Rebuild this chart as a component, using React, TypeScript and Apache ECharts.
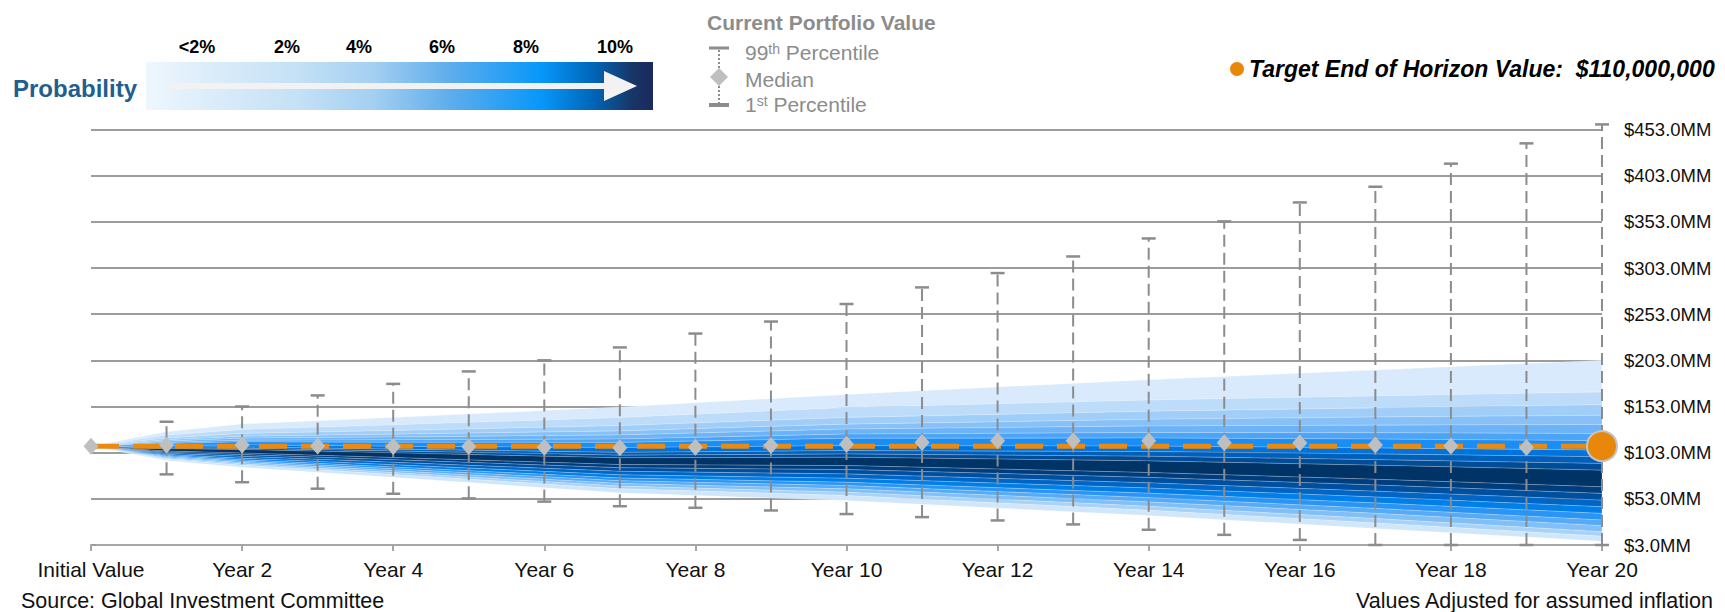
import React, { useEffect, useRef } from "react";
import * as echarts from "echarts";

const FONT = '"Liberation Sans", Arial, Helvetica, sans-serif';

// ---- data ----
const YEARS = [0, 1, 2, 3, 4, 5, 6, 7, 8, 9, 10, 11, 12, 13, 14, 15, 16, 17, 18, 19, 20];
const MEDIAN = [110, 111.3, 111.3, 110.3, 109.8, 109.6, 109, 108.4, 109, 110.7, 112.2, 114, 115.8, 116, 115.8, 113.8, 113.4, 111.3, 110.2, 108.6, 109];
const BAR_YEARS = [1, 2, 3, 4, 5, 6, 7, 8, 9, 10, 11, 12, 13, 14, 15, 16, 17, 18, 19, 20];
const P99 = [136.5, 153, 165, 177.5, 191, 203, 217, 232, 245, 264, 282, 297.5, 315.5, 335, 353.5, 374, 391, 416, 438, 458.5];
const P1 = [79.5, 71, 64, 58.5, 53.5, 50, 45, 43.3, 40.4, 36.5, 33.2, 29.6, 25.3, 19.5, 14, 8.5, 3, 3, 3, 3];
const TARGET_VALUE = 110;
const TARGET_TEXT = "Target End of Horizon Value:  $110,000,000";

// fan band boundaries (top to bottom) read at these x positions
const FAN_X = [0, 1, 2, 4, 7, 10, 14, 17, 20];
const FAN_AT_0 = [110, 110, 110, 110, 110, 110, 110, 110, 110, 110, 110, 110, 110, 110, 110, 110, 110, 110, 110, 110, 110];
const FAN_AT_1 = [125.7, 121.9, 118.9, 117.0, 115.5, 114.0, 112.8, 110.6, 109.1, 108.1, 107.2, 104.7, 103.5, 102.3, 101.0, 99.8, 98.8, 97.8, 96.8, 95.9, 94.4];
const FAN_AT_2 = [134, 128.2, 123.8, 120.9, 118.7, 116.5, 114.7, 111.4, 109.2, 107.7, 106.3, 102.6, 100.9, 99.0, 97.0, 95.3, 93.8, 92.4, 90.9, 89.4, 87.2];
const FAN_AT_4 = [141, 133.1, 127.0, 123.0, 119.9, 116.9, 114.3, 109.9, 106.8, 104.8, 102.8, 97.7, 95.3, 92.6, 90.0, 87.5, 85.5, 83.5, 81.4, 79.4, 76.4];
const FAN_AT_7 = [152.5, 141.1, 132.3, 126.6, 122.2, 117.8, 114.1, 108.5, 103.3, 100.3, 97.4, 90.1, 86.7, 82.8, 79.0, 75.5, 72.6, 69.7, 66.8, 63.9, 59.5];
const FAN_AT_10 = [166, 151.9, 141.1, 133.9, 128.5, 123.1, 118.5, 110.6, 105.2, 101.6, 98, 89, 84.7, 80, 75.3, 71, 67.4, 63.8, 60.2, 56.6, 51.2];
const FAN_AT_14 = [182, 160.0, 147.8, 139.1, 131.9, 124.8, 118.9, 110.1, 104.2, 99.1, 94.1, 81.5, 76.2, 70.3, 64.7, 59.1, 54.3, 49.7, 44.9, 40.6, 35];
const FAN_AT_17 = [192.5, 164.5, 151.5, 141.6, 132.8, 124.6, 117.7, 108.1, 101.6, 95.4, 89.4, 74.2, 68.0, 61.3, 55.0, 48.6, 42.6, 37.3, 31.6, 26.8, 21];
const FAN_AT_20 = [203, 168.8, 155, 143.5, 133.4, 123.7, 116, 105.7, 98.5, 91.3, 84, 66, 58.9, 51.6, 44.4, 37.2, 30, 23.9, 17.4, 12.5, 7];
const FAN_COLUMNS = [FAN_AT_0, FAN_AT_1, FAN_AT_2, FAN_AT_4, FAN_AT_7, FAN_AT_10, FAN_AT_14, FAN_AT_17, FAN_AT_20];

const BAND_COLORS = [
  "#d8eafc", "#bddcfa", "#a1cef9", "#88c1f8", "#6cb3f7", "#4da4f6", "#1b8ef5", "#0073dd", "#005fb9", "#004c97",
  "#003366", "#003d7d", "#004f9f", "#0065c5", "#007fe9", "#2b95f5", "#56aaf6", "#81bff7", "#a9d2f9", "#d0e6fb",
];

const PROB_LABELS = ["<2%", "2%", "4%", "6%", "8%", "10%"];
const PROB_LABEL_X = [197, 287, 359, 442, 526, 615];

const Y_MIN = 3;
const Y_MAX = 453;
const Y_STEP = 50;

function buildOption() {
  const bandData = BAND_COLORS.map((_, i) => [i, TARGET_VALUE]);
  const barData = BAR_YEARS.map((y, i) => [y, P1[i], P99[i]]);
  const medianData = YEARS.map((y, i) => [y, MEDIAN[i]]);

  const grey = "#8c8c8c";
  const legendGrey = "#8c8c8c";

  const graphic: any[] = [
    {
      type: "text",
      x: 13,
      y: 88,
      style: { text: "Probability", font: `bold 24px ${FONT}`, fill: "#1f5f8f", align: "left", verticalAlign: "middle" },
    },
    {
      type: "rect",
      shape: { x: 146, y: 62, width: 507, height: 48 },
      style: {
        fill: new echarts.graphic.LinearGradient(0, 0, 1, 0, [
          { offset: 0, color: "#eff7fd" },
          { offset: 0.12, color: "#dcedfa" },
          { offset: 0.3, color: "#c4e1f6" },
          { offset: 0.45, color: "#a3cff2" },
          { offset: 0.6, color: "#5eadec" },
          { offset: 0.78, color: "#0797fa" },
          { offset: 0.88, color: "#0067b9" },
          { offset: 0.96, color: "#183566" },
          { offset: 1, color: "#1b2a5c" },
        ]),
      },
    },
    { type: "rect", shape: { x: 170, y: 83, width: 436, height: 6 }, style: { fill: "#f2f2f2" } },
    { type: "polygon", shape: { points: [[604, 71], [637, 86], [604, 101]] }, style: { fill: "#f2f2f2" } },
    ...PROB_LABELS.map((t, i) => ({
      type: "text",
      x: PROB_LABEL_X[i],
      y: 47,
      style: { text: t, font: `bold 18px ${FONT}`, fill: "#000", align: "center", verticalAlign: "middle" },
    })),
    {
      type: "text",
      x: 707,
      y: 22,
      style: { text: "Current Portfolio Value", font: `bold 21px ${FONT}`, fill: legendGrey, align: "left", verticalAlign: "middle" },
    },
    { type: "line", shape: { x1: 709, y1: 48, x2: 729, y2: 48 }, style: { stroke: grey, lineWidth: 3 } },
    { type: "line", shape: { x1: 719, y1: 50, x2: 719, y2: 69 }, style: { stroke: grey, lineWidth: 2, lineDash: [2, 2] } },
    { type: "polygon", shape: { points: [[719, 68], [728, 77], [719, 86], [710, 77]] }, style: { fill: "#bfbfbf" } },
    { type: "line", shape: { x1: 719, y1: 86, x2: 719, y2: 103 }, style: { stroke: grey, lineWidth: 2, lineDash: [2, 2] } },
    { type: "line", shape: { x1: 709, y1: 105, x2: 729, y2: 105 }, style: { stroke: grey, lineWidth: 4 } },
    {
      type: "text",
      x: 745,
      y: 52,
      style: {
        text: "{n|99}{s|th}{n| Percentile}",
        align: "left",
        verticalAlign: "middle",
        rich: {
          n: { fontSize: 21, fontFamily: FONT, fill: legendGrey },
          s: { fontSize: 14, fontFamily: FONT, fill: legendGrey, verticalAlign: "top" },
        },
      },
    },
    {
      type: "text",
      x: 745,
      y: 79,
      style: { text: "Median", font: `21px ${FONT}`, fill: legendGrey, align: "left", verticalAlign: "middle" },
    },
    {
      type: "text",
      x: 745,
      y: 104,
      style: {
        text: "{n|1}{s|st}{n| Percentile}",
        align: "left",
        verticalAlign: "middle",
        rich: {
          n: { fontSize: 21, fontFamily: FONT, fill: legendGrey },
          s: { fontSize: 14, fontFamily: FONT, fill: legendGrey, verticalAlign: "top" },
        },
      },
    },
    { type: "circle", shape: { cx: 1237, cy: 69, r: 7 }, style: { fill: "#e8870a" } },
    {
      type: "text",
      x: 1249,
      y: 69,
      style: { text: TARGET_TEXT, font: `italic bold 23px ${FONT}`, fill: "#000", align: "left", verticalAlign: "middle" },
    },
    {
      type: "text",
      x: 21,
      y: 601,
      style: { text: "Source: Global Investment Committee", font: `21.5px ${FONT}`, fill: "#111", align: "left", verticalAlign: "middle" },
    },
    {
      type: "text",
      x: 1713,
      y: 601,
      style: { text: "Values Adjusted for assumed inflation", font: `21.5px ${FONT}`, fill: "#111", align: "right", verticalAlign: "middle" },
    },
  ];

  return {
    animation: false,
    textStyle: { fontFamily: FONT },
    grid: { left: 91, right: 123, top: 129.5, bottom: 67, containLabel: false, outerBoundsMode: "none" },
    xAxis: {
      type: "value",
      min: 0,
      max: 20,
      interval: 2,
      axisLine: { show: true, lineStyle: { color: "#a6a6a6", width: 2 } },
      axisTick: { show: true, length: 6, lineStyle: { color: "#a6a6a6", width: 2 } },
      axisLabel: {
        fontSize: 21,
        color: "#111",
        margin: 14,
        fontFamily: FONT,
        formatter: (v: number) => (v === 0 ? "Initial Value" : `Year ${v}`),
      },
      splitLine: { show: false },
    },
    yAxis: {
      type: "value",
      position: "right",
      min: Y_MIN,
      max: Y_MAX,
      interval: Y_STEP,
      axisLine: { show: false },
      axisTick: { show: true, length: 5, lineStyle: { color: "#9c9c9c", width: 2 } },
      axisLabel: {
        fontSize: 18.5,
        color: "#111",
        margin: 22,
        fontFamily: FONT,
        formatter: (v: number) => `$${v.toFixed(1)}MM`,
      },
      splitLine: { show: true, lineStyle: { color: "#9c9c9c", width: 2 } },
    },
    series: [
      {
        type: "custom",
        name: "fan",
        z: 1,
        data: bandData,
        encode: { x: 0, y: 1 },
        renderItem: (params: any, api: any) => {
          const i = params.dataIndex;
          const upper = FAN_COLUMNS.map((col, k) => api.coord([FAN_X[k], col[i]]));
          const lower = FAN_COLUMNS.map((col, k) => api.coord([FAN_X[k], col[i + 1]])).reverse();
          return {
            type: "polygon",
            shape: { points: upper.concat(lower) },
            style: { fill: BAND_COLORS[i], stroke: "rgba(255,255,255,0.28)", lineWidth: 0.7 },
          };
        },
      },
      {
        type: "custom",
        name: "range",
        z: 3,
        clip: false,
        data: barData,
        encode: { x: 0, y: [1, 2] },
        renderItem: (params: any, api: any) => {
          const x = api.value(0);
          const lo = api.coord([x, api.value(1)]);
          const hi = api.coord([x, api.value(2)]);
          return {
            type: "group",
            children: [
              {
                type: "line",
                shape: { x1: lo[0], y1: lo[1], x2: hi[0], y2: hi[1] },
                style: { stroke: grey, lineWidth: 2, lineDash: [12, 6] },
              },
              {
                type: "line",
                shape: { x1: hi[0] - 7, y1: hi[1], x2: hi[0] + 7, y2: hi[1] },
                style: { stroke: grey, lineWidth: 2.5 },
              },
              {
                type: "line",
                shape: { x1: lo[0] - 7, y1: lo[1], x2: lo[0] + 7, y2: lo[1] },
                style: { stroke: grey, lineWidth: 2.5 },
              },
            ],
          };
        },
      },
      {
        type: "line",
        name: "target",
        z: 4,
        data: [[0, TARGET_VALUE], [20, TARGET_VALUE]],
        symbol: "none",
        lineStyle: { color: "#eb8a0e", width: 5, type: [28, 14] },
        silent: true,
      },
      {
        type: "scatter",
        name: "median",
        z: 5,
        data: medianData,
        symbol: "diamond",
        symbolSize: [15, 17],
        itemStyle: { color: "#bfbfbf", opacity: 1 },
        clip: false,
      },
      {
        type: "scatter",
        name: "targetDot",
        z: 6,
        data: [[20, TARGET_VALUE]],
        symbol: "circle",
        symbolSize: 30,
        itemStyle: { color: "#e8870a", borderColor: "#c4c4c4", borderWidth: 2, opacity: 1 },
        clip: false,
      },
    ],
    graphic,
  };
}

export default function App() {
  const ref = useRef<HTMLDivElement>(null);
  useEffect(() => {
    document.body.style.margin = "0";
    const chart = echarts.init(ref.current as HTMLDivElement, null, { renderer: "svg" });
    chart.setOption(buildOption() as any);
    return () => {
      chart.dispose();
    };
  }, []);
  return <div ref={ref} style={{ position: "absolute", left: 0, top: 0, width: 1725, height: 612 }} />;
}
